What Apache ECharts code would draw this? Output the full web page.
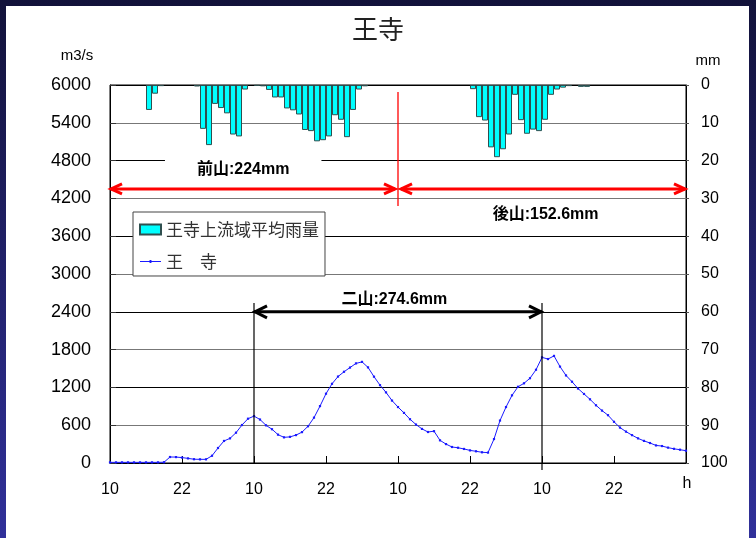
<!DOCTYPE html>
<html>
<head>
<meta charset="utf-8">
<script src="https://cdn.jsdelivr.net/npm/echarts@6/dist/echarts.min.js"></script>
<style>
  html, body { margin: 0; padding: 0; width: 756px; height: 538px; overflow: hidden;
    background: linear-gradient(to bottom, #12123a, #30309a); }
  #panel { position: absolute; left: 6px; top: 6px; width: 743px; height: 532px; background: #fff; }
  #chart { position: absolute; left: 0; top: 0; width: 756px; height: 538px; }
</style>
</head>
<body>
<div id="panel"></div>
<div id="chart"></div>
<script>
// Hour ticks every 12 h starting at 10:00 (last tick shows the unit)
const hourTickLabels = ['10', '22', '10', '22', '10', '22', '10', '22', 'h'];

// Hourly basin-average rainfall (mm), one value per hour slot
const rainfall = [
  0, 0, 0, 0, 0, 0, 6.6, 2.3, 0.3, 0,
  0, 0, 0, 0, 0.4, 11.6, 15.9, 5.0, 6.1, 7.5,
  13.1, 13.6, 1.2, 0, 0.2, 0.35, 1.3, 3.3, 3.3, 6.2,
  6.7, 7.8, 11.9, 12.2, 14.9, 14.6, 13.6, 8.0, 9.2, 13.8,
  6.6, 1.2, 0.35, 0, 0, 0, 0, 0, 0, 0,
  0, 0, 0, 0, 0, 0, 0, 0, 0, 0,
  1.1, 8.5, 9.4, 16.5, 19.1, 17.0, 13.1, 2.6, 9.3, 12.9,
  11.8, 12.2, 9.2, 2.6, 1.2, 0.7, 0.3, 0, 0.5, 0.5,
  0, 0, 0, 0, 0, 0, 0, 0, 0, 0,
  0, 0, 0, 0, 0, 0
];

// Hourly discharge at Oji (m3/s)
const discharge = [
  10, 10, 10, 10, 10, 10, 10, 10, 10, 12,
  95, 94, 86, 73, 60, 58, 58, 115, 238, 350,
  391, 481, 603, 703, 744, 690, 598, 536, 450, 407,
  415, 443, 490, 583, 720, 903, 1100, 1257, 1372, 1448,
  1515, 1581, 1605, 1518, 1370, 1236, 1121, 991, 888, 795,
  695, 610, 541, 492, 505, 360, 300, 254, 242, 223,
  200, 186, 170, 165, 380, 674, 888, 1074, 1210, 1265,
  1346, 1480, 1677, 1650, 1700, 1530, 1390, 1290, 1182, 1096,
  1011, 916, 832, 759, 654, 562, 498, 442, 391, 351,
  317, 279, 269, 244, 225, 211, 195
];

const rainName = '王寺上流域平均雨量';
const flowName = '王　寺';

// Storm periods (hour offsets) and their rainfall totals
const periodSplits = [0, 48, 96];
const periodLabels = ['前山:224mm', '後山:152.6mm'];
const twinSpan = [24, 72];
const twinLabel = '二山:274.6mm';

const latin = "'Liberation Sans', Arial, 'Noto Sans CJK JP', sans-serif";
const cjk = "'Noto Sans CJK JP', 'Liberation Sans', sans-serif";

const chart = echarts.init(document.getElementById('chart'), null, { renderer: 'canvas' });

chart.setOption({
  backgroundColor: 'transparent',
  animation: false,
  title: {
    text: '王寺', left: 'center', top: 11,
    textStyle: { fontSize: 26, fontWeight: 'normal', color: '#222', fontFamily: cjk }
  },
  grid: {
    left: 110, right: 70, top: 85, bottom: 75,
    show: true, borderColor: '#000', borderWidth: 1, backgroundColor: 'transparent',
    outerBoundsMode: 'none'
  },
  legend: {
    orient: 'vertical', left: 133, top: 212,
    backgroundColor: '#fff', borderColor: '#444', borderWidth: 1, borderRadius: 0,
    padding: [9, 6, 6, 6], itemGap: 15, itemWidth: 21, itemHeight: 10,
    selectedMode: false,
    textStyle: { fontSize: 17, color: '#333', fontFamily: cjk },
    data: [
      { name: rainName, icon: 'rect' },
      { name: flowName, icon: 'path://M0,4.5L22,4.5L22,5.5L0,5.5Z M10,3.5L12,3.5L12,6.5L10,6.5Z' }
    ]
  },
  xAxis: {
    type: 'value', min: 0, max: 96, interval: 12,
    axisLine: { show: true, lineStyle: { color: '#000', width: 1 } },
    axisTick: { show: true, inside: true, length: 7, lineStyle: { color: '#000' } },
    splitLine: { show: false },
    axisLabel: {
      margin: 19, fontSize: 16, color: '#000', fontFamily: latin,
      formatter: v => { const i = Math.round(v / 12); return i < hourTickLabels.length - 1 ? hourTickLabels[i] : ''; }
    }
  },
  yAxis: [
    {
      type: 'value', min: 0, max: 6000, interval: 600, position: 'left',
      axisLine: { show: true, lineStyle: { color: '#000' } },
      axisTick: { show: true, inside: true, length: 6, lineStyle: { color: '#333' } },
      splitLine: { show: true, lineStyle: { color: ['#000', '#777'], width: 1.2 } },
      axisLabel: { margin: 19, fontSize: 18, color: '#000', fontFamily: latin, formatter: v => String(v) }
    },
    {
      type: 'value', min: 0, max: 100, interval: 10, position: 'right', inverse: true,
      axisLine: { show: true, lineStyle: { color: '#000' } },
      axisTick: { show: true, inside: false, length: 3, lineStyle: { color: '#555' } },
      splitLine: { show: false },
      axisLabel: { margin: 15, fontSize: 16, color: '#000', fontFamily: latin, formatter: v => String(v) }
    }
  ],
  series: [
    {
      name: rainName, type: 'bar', xAxisIndex: 0, yAxisIndex: 1,
      barWidth: 6,
      itemStyle: { color: '#00ffff', borderColor: '#2f4f4f', borderWidth: 1 },
      data: rainfall.map((v, i) => [i + 0.5, v]).filter(d => d[1] > 0),
      z: 3
    },
    {
      name: flowName, type: 'line', xAxisIndex: 0, yAxisIndex: 0,
      symbol: 'rect', symbolSize: 2.2, showSymbol: true,
      lineStyle: { color: '#1a1aff', width: 1 },
      itemStyle: { color: '#1a1aff' },
      data: discharge.map((v, i) => [i, v]),
      z: 4
    }
  ]
});

// Annotations placed through the axes' own scales
const px = h => chart.convertToPixel({ xAxisIndex: 0 }, h);
const py = q => chart.convertToPixel({ yAxisIndex: 0 }, q);

function chevron(x, y, dir, w, h, color, lw) {
  return {
    type: 'polyline', z: 110,
    shape: { points: [[x + dir * w, y - h], [x, y], [x + dir * w, y + h]] },
    style: { stroke: color, lineWidth: lw, fill: null, lineJoin: 'miter' }
  };
}

const g = [];
// Red period arrows
const redY = py(4350);
const xa = px(periodSplits[0]), xb = px(periodSplits[1]), xc = px(periodSplits[2]);
g.push({ type: 'line', z: 110, shape: { x1: xa + 1, y1: redY, x2: xb - 3, y2: redY }, style: { stroke: '#ff0000', lineWidth: 3 } });
g.push({ type: 'line', z: 110, shape: { x1: xb + 3, y1: redY, x2: xc - 1, y2: redY }, style: { stroke: '#ff0000', lineWidth: 3 } });
g.push(chevron(xa + 1, redY, 1, 11, 5, '#ff0000', 3));
g.push(chevron(xb - 3, redY, -1, 11, 5, '#ff0000', 3));
g.push(chevron(xb + 3, redY, 1, 11, 5, '#ff0000', 3));
g.push(chevron(xc - 1, redY, -1, 11, 5, '#ff0000', 3));
g.push({ type: 'line', z: 111, shape: { x1: xb, y1: py(5890), x2: xb, y2: py(4080) }, style: { stroke: '#ff0000', lineWidth: 1.3 } });

// Period labels with white backing
g.push({
  type: 'text', z: 105, x: px(22.2), y: py(4650),
  style: { text: periodLabels[0], font: 'bold 16px ' + latin, fill: '#000',
    align: 'center', verticalAlign: 'middle', backgroundColor: '#fff', padding: [3, 32, 3, 32] }
});
g.push({
  type: 'text', z: 105, x: px(72.6), y: py(3940),
  style: { text: periodLabels[1], font: 'bold 16px ' + latin, fill: '#000',
    align: 'center', verticalAlign: 'middle', backgroundColor: '#fff', padding: [10, 24, 3, 24] }
});

// Twin-peak span arrow
const bY = py(2400);
const xd = px(twinSpan[0]), xe = px(twinSpan[1]);
g.push({ type: 'line', z: 110, shape: { x1: xd, y1: bY, x2: xe, y2: bY }, style: { stroke: '#000', lineWidth: 3 } });
g.push(chevron(xd + 1, bY, 1, 12, 6, '#000', 3));
g.push(chevron(xe - 1, bY, -1, 12, 6, '#000', 3));
g.push({ type: 'line', z: 109, shape: { x1: xd, y1: py(2540), x2: xd, y2: py(0) }, style: { stroke: '#000', lineWidth: 1.2 } });
g.push({ type: 'line', z: 109, shape: { x1: xe, y1: py(2540), x2: xe, y2: py(-110) }, style: { stroke: '#000', lineWidth: 1.2 } });
g.push({
  type: 'text', z: 105, x: px(47.4), y: py(2595),
  style: { text: twinLabel, font: 'bold 16px ' + latin, fill: '#000', align: 'center', verticalAlign: 'middle' }
});

// Axis units
g.push({ type: 'text', z: 105, x: px(96) + 1, y: 484,
  style: { text: hourTickLabels[hourTickLabels.length - 1], font: '16px ' + latin, fill: '#000', align: 'center', verticalAlign: 'middle' } });
g.push({ type: 'text', z: 105, x: 77, y: 56,
  style: { text: 'm3/s', font: '15px ' + latin, fill: '#000', align: 'center', verticalAlign: 'middle' } });
g.push({ type: 'text', z: 105, x: 708, y: 61,
  style: { text: 'mm', font: '15px ' + latin, fill: '#000', align: 'center', verticalAlign: 'middle' } });

chart.setOption({ graphic: { elements: g } });
</script>
</body>
</html>
